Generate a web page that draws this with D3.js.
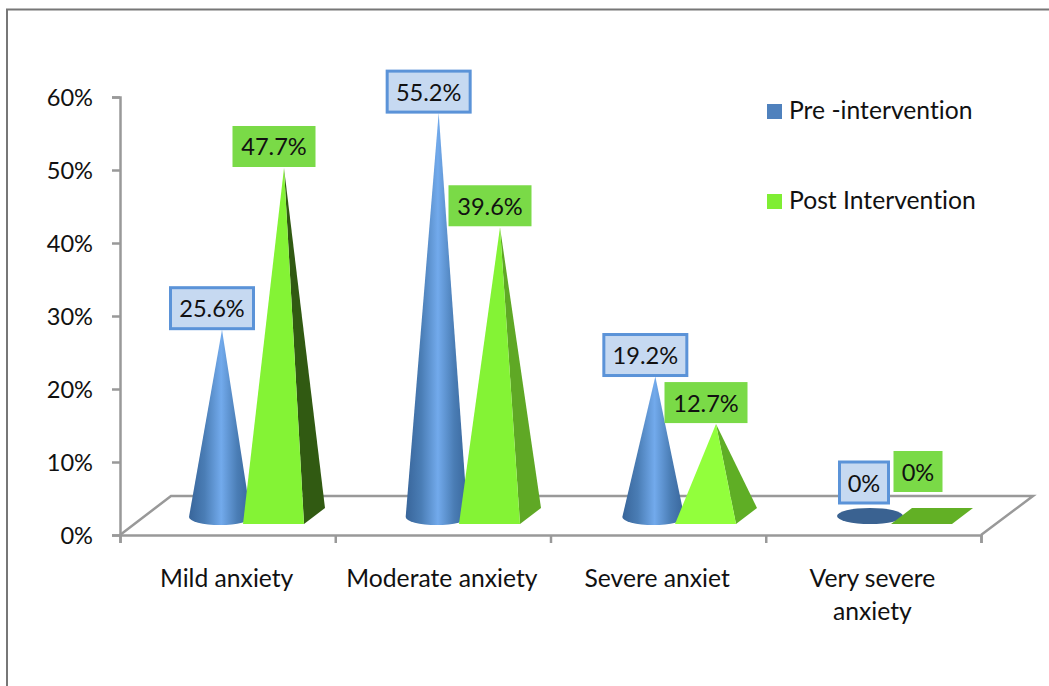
<!DOCTYPE html>
<html><head><meta charset="utf-8">
<script src="https://cdn.jsdelivr.net/npm/d3@7/dist/d3.min.js"></script>
<style>html,body{margin:0;padding:0;background:#fff}svg{display:block}text{font-family:Lato,"Open Sans",sans-serif;fill:#111;font-variant-ligatures:none}</style>
</head><body><svg id="c" width="1049" height="686"></svg>
<script>
const categories = ["Mild anxiety","Moderate anxiety","Severe anxiet","Very severe anxiety"];
const seriesNames = ["Pre -intervention","Post Intervention"];
const preValues = [25.6,55.2,19.2,0];
const postValues = [47.7,39.6,12.7,0];
const yTicks = [0,10,20,30,40,50,60];
const frontColors = ["#84f335","#84f335","#92ff3c","#62b025"];
const sideColors = ["#315a12","#5fa825","#5fae25","#62b025"];

const svg = d3.select("#c");
const FS = 24.7, NFS = 23.6;
const axisCol = "#999";
// frame
svg.append("path").attr("d","M7,686V9.5H1049").attr("fill","none").attr("stroke","#777").attr("stroke-width",2);

const y = d3.scaleLinear().domain([0,60]).range([535,97]);
const h = d3.scaleLinear().domain([0,60]).range([517,78]);
const xBand = d3.scaleBand().domain(categories).range([120,981]);
const xPre = d3.scalePoint().domain(categories).range([220,870]);
const xPost = d3.scalePoint().domain(categories).range([284,932]);

// gradient
const defs = svg.append("defs");
const g = defs.append("linearGradient").attr("id","cone").attr("x1",0).attr("x2",1).attr("y1",0).attr("y2",0);
[[0,"#38659a"],[.25,"#4a7db5"],[.52,"#72aaec"],[.78,"#4a7db5"],[1,"#38659a"]].forEach(s=>g.append("stop").attr("offset",s[0]).attr("stop-color",s[1]));

// floor
const floor = svg.append("g").attr("fill","none").attr("stroke",axisCol).attr("stroke-width",2.5);
floor.append("path").attr("d",`M${xBand.range()[0]},${y(0)}L171,496H1033L${xBand.range()[1]},${y(0)}`);

// y axis
const ya = svg.append("g").attr("transform","translate(120,0)")
  .call(d3.axisLeft(y).tickValues(yTicks).tickFormat(d=>d+"%").tickSize(8).tickPadding(19));
ya.selectAll("path,line").attr("stroke",axisCol).attr("stroke-width",2.5);
ya.selectAll("text").attr("font-size",NFS).attr("font-family",null).attr("dy","0.36em").style("fill","#111");

// x axis
const tickX = d3.scaleLinear().domain([0,categories.length]).range(xBand.range());
const xa = svg.append("g").attr("transform",`translate(0,${y(0)})`)
  .call(d3.axisBottom(tickX).tickValues(d3.range(categories.length+1)).tickSize(8).tickFormat(""));
xa.selectAll("path,line").attr("stroke",axisCol).attr("stroke-width",2.5);

// category labels
const wrap = {"Very severe anxiety":["Very severe","anxiety"]};
categories.forEach(c=>{
  const lines = wrap[c]||[c];
  const t = svg.append("text").attr("text-anchor","middle").attr("font-size",FS)
    .attr("x",xBand(c)+xBand.bandwidth()/2-1);
  lines.forEach((l,i)=>t.append("tspan").attr("x",t.attr("x")).attr("y",587+i*33).text(l));
});

const baseY = 524, rx = 31, ry = 8, depthX = 21, depthY = 16, faceW = 61;
function label(cx,bottom,txt,fill,stroke){
  const w = txt.length>2?83:49, H=41;
  const gg = svg.append("g");
  gg.append("rect").attr("x",cx-w/2).attr("y",bottom-H).attr("width",w).attr("height",H)
    .attr("fill",fill).attr("stroke",stroke).attr("stroke-width",stroke==="none"?0:3);
  gg.append("text").attr("x",cx).attr("y",bottom-H/2+9).attr("text-anchor","middle").attr("font-size",NFS).text(txt);
}
categories.forEach((c,i)=>{
  // cone
  const cx = xPre(c), v = preValues[i], top = h(v), cy = baseY-ry;
  if(v>0){
    svg.append("path").attr("fill","url(#cone)")
      .attr("d",`M${cx+2},${top}L${cx-rx},${cy+1}A${rx},${ry} 0 0 0 ${cx+rx},${cy+1}Z`);
  } else {
    svg.append("ellipse").attr("cx",cx).attr("cy",cy).attr("rx",33).attr("ry",ry).attr("fill","#3a6291");
  }
  // pyramid
  const px = xPost(c), pv = postValues[i], ptop = h(pv);
  const l = px-41, r = l+faceW;
  if(pv>0){
    svg.append("path").attr("fill",sideColors[i]).attr("d",`M${r},${baseY}L${r+depthX},${baseY-depthY}L${px},${ptop}Z`);
    svg.append("path").attr("fill",frontColors[i]).attr("d",`M${l},${baseY}L${r},${baseY}L${px},${ptop}Z`);
  } else {
    svg.append("path").attr("fill",frontColors[i]).attr("d",`M${l},${baseY}L${r},${baseY}L${r+depthX},${baseY-depthY}L${l+depthX},${baseY-depthY}Z`);
  }
});
// labels on top
categories.forEach((c,i)=>{
  const pv=preValues[i], qv=postValues[i];
  label(xPre(c)-(pv>0?8:6), pv>0?h(pv)-1:503, pv+"%", "#c6d9f1", "#5b93d8");
  label(xPost(c)-(qv>0?10:14), qv>0?h(qv)-1:492, qv+"%", "#7ada47", "none");
});

// legend
const leg = svg.append("g");
seriesNames.forEach((n,i)=>{
  const yy = 111+i*90;
  leg.append("rect").attr("x",767).attr("y",yy-7).attr("width",15).attr("height",15).attr("fill",i?"#7fee33":"#4f81bd");
  leg.append("text").attr("x",789).attr("y",yy+8).attr("font-size",FS).text(n);
});
</script></body></html>
